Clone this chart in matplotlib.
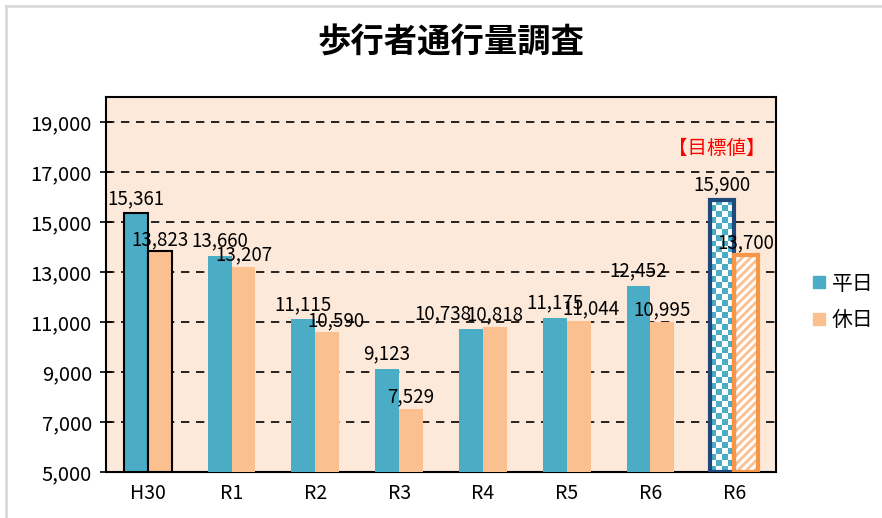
import numpy as np
import matplotlib
matplotlib.use("Agg")
import matplotlib.pyplot as plt
from matplotlib.lines import Line2D
from matplotlib.ticker import FuncFormatter

plt.rcParams['font.family'] = ['Noto Sans CJK JP', 'DejaVu Sans']
plt.rcParams['hatch.linewidth'] = 2.0

# data
years = ["H30", "R1", "R2", "R3", "R4", "R5", "R6", "R6"]
weekday = [15361, 13660, 11115, 9123, 10738, 11175, 12452, 15900]
holiday = [13823, 13207, 10590, 7529, 10818, 11044, 10995, 13700]

blue = "#4BACC6"
orange = "#FAC090"
navy = "#1F497D"
dark_orange = "#F79646"
bg = "#FDE9D9"

# hand nudges of a few labels (points), as in the reference
nudge_wd = {4: -20, 5: 0}
nudge_hd = {2: 6, 5: 9}

fig = plt.figure(figsize=(8.82, 5.18), dpi=100)
ax = fig.add_axes([0.120, 0.0888, 0.760, 0.7239])
ax.set_facecolor(bg)

x = np.arange(len(years))
w = 0.286
base = 5000

# normal bars (all but target)
n = len(years) - 1
b1 = ax.bar(x[:n] - w / 2, np.array(weekday[:n]) - base, w, bottom=base,
            color=blue, zorder=3)
b2 = ax.bar(x[:n] + w / 2, np.array(holiday[:n]) - base, w, bottom=base,
            color=orange, zorder=3)
# H30 outlined in black
b1[0].set_edgecolor("black"); b1[0].set_linewidth(1.5)
b2[0].set_edgecolor("black"); b2[0].set_linewidth(1.5)

# target bars (last category)
tx = x[-1]
tb = ax.bar(tx - w / 2, weekday[-1] - base, w, bottom=base, color="white",
            linewidth=0, zorder=3)[0]
check = np.indices((46, 4)).sum(axis=0) % 2
cmap = matplotlib.colors.ListedColormap(["white", blue])
im = ax.imshow(check, cmap=cmap, interpolation="nearest", aspect="auto",
               extent=(tx - w, tx, base, weekday[-1]), zorder=3.5)
im.set_clip_path(tb)
ax.bar(tx - w / 2, weekday[-1] - base, w, bottom=base, fill=False,
       edgecolor=navy, linewidth=3, zorder=4)
ax.bar(tx + w / 2, holiday[-1] - base, w, bottom=base, color="white",
       edgecolor=orange, hatch="////", linewidth=0, zorder=3)
ax.bar(tx + w / 2, holiday[-1] - base, w, bottom=base, fill=False,
       edgecolor=dark_orange, linewidth=3, zorder=4)

# value labels
for i in range(len(years)):
    ax.annotate(f"{weekday[i]:,}", (x[i] - w / 2, weekday[i]),
                xytext=(nudge_wd.get(i, 0), 3),
                textcoords="offset points", ha="center", va="bottom",
                fontsize=13.5, zorder=6)
    ax.annotate(f"{holiday[i]:,}", (x[i] + w / 2, holiday[i]),
                xytext=(nudge_hd.get(i, 0), 1),
                textcoords="offset points", ha="center", va="bottom",
                fontsize=13.5, zorder=6)

ax.text(tx - 0.21, 17960, "【目標値】", color="red", fontsize=14,
        ha="center", va="center", zorder=6)

ax.set_xlim(-0.5, len(years) - 0.5)
ax.set_ylim(5000, 20000)
ax.set_yticks(np.arange(5000, 20001, 2000))
ax.yaxis.set_major_formatter(FuncFormatter(lambda v, p: f"{int(v):,}"))
ax.set_xticks(x)
ax.set_xticklabels(years)
ax.tick_params(axis="y", direction="inout", length=8, width=1.2, labelsize=14.5, pad=6)
ax.tick_params(axis="x", length=0, labelsize=14, pad=8)
ax.yaxis.grid(True, linestyle=(0, (5, 4)), color="black", linewidth=1.2, zorder=1)
ax.set_axisbelow(True)
for s in ax.spines.values():
    s.set_linewidth(1.5)
    s.set_color("black")

fig.text(0.511, 0.917, "歩行者通行量調査", ha="center", va="center",
         fontsize=24, fontweight="bold")

handles = [Line2D([], [], marker="s", linestyle="", markersize=8, color=blue),
           Line2D([], [], marker="s", linestyle="", markersize=8, color=orange)]
fig.legend(handles, ["平日", "休日"], loc="center", bbox_to_anchor=(0.955, 0.417),
           frameon=False, fontsize=15, handletextpad=0.2, labelspacing=0.7,
           handlelength=0.8)

# light gray frame (top and left edges visible)
fig.add_artist(Line2D([0.007, 1.0], [0.988, 0.988], color="#D9D9D9", lw=2,
                      transform=fig.transFigure))
fig.add_artist(Line2D([0.007, 0.007], [0.0, 0.988], color="#D9D9D9", lw=2,
                      transform=fig.transFigure))

fig.savefig("out.png", dpi=100)
